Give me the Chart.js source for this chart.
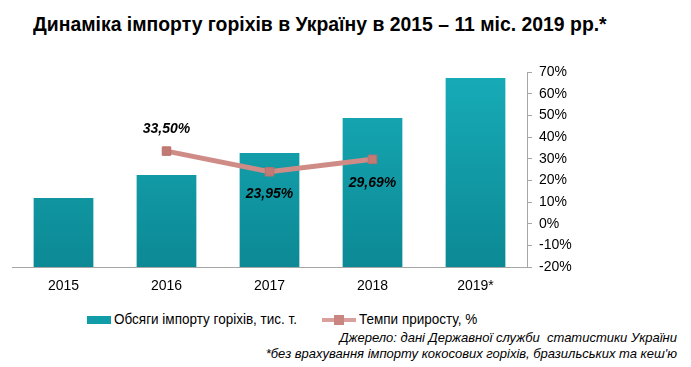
<!DOCTYPE html>
<html>
<head>
<meta charset="utf-8">
<script src="https://cdn.jsdelivr.net/npm/chart.js@4.4.0/dist/chart.umd.min.js"></script>
<style>
  body { margin: 0; background: #fff; }
  #wrap { position: relative; width: 691px; height: 367px; overflow: hidden;
          font-family: "Liberation Sans Narrow", "Liberation Sans", Arial, sans-serif; }
  #title { position: absolute; left: 33px; top: 12px; font-size: 21px; font-weight: bold; color: #000; white-space: nowrap;
           transform: scaleX(0.923); transform-origin: left top; }
  #box { position: absolute; left: 0; top: 55px; width: 600px; height: 245px; }
  .leg { position: absolute; top: 310px; font-size: 15px; color: #000; white-space: nowrap; }
  .leg .t { display: inline-block; transform: scaleX(0.9); transform-origin: left center; }
  .note { position: absolute; right: 14px; font-size: 13px; font-style: italic; color: #000; white-space: nowrap; }
</style>
</head>
<body>
<div id="wrap">
  <div id="title">Динаміка імпорту горіхів в Україну в 2015 – 11 міс. 2019 рр.*</div>
  <div id="box"><canvas id="myChart"></canvas></div>
  <div class="leg" style="left:87px"><span style="display:inline-block;width:24px;height:8px;background:#129ca8;vertical-align:middle;margin-right:3px"></span><span class="t">Обсяги імпорту горіхів, тис. т.</span></div>
  <div class="leg" style="left:322px"><span style="display:inline-block;position:relative;width:34px;height:10px;vertical-align:middle;margin-right:3px"><span style="position:absolute;left:0;top:3px;width:34px;height:4px;background:#d8a19c"></span><span style="position:absolute;left:12px;top:0;width:10px;height:10px;background:#c98681"></span></span><span class="t">Темпи приросту, %</span></div>
  <div class="note" style="top:330px">Джерело: дані Державної служби&nbsp; статистики України</div>
  <div class="note" style="top:346px">*без врахування імпорту кокосових горіхів, бразильських та кеш'ю</div>
</div>
<script>
const years = ['2015', '2016', '2017', '2018', '2019*'];
const importVolume = [6.9, 9.2, 11.4, 14.9, 18.9]; // тис. т (оцінка)
const growthRate = [null, 33.50, 23.95, 29.69, null]; // %

const fontName = '"Liberation Sans Narrow", "Liberation Sans", Arial, sans-serif';

const pointLabels = {
    id: 'pointLabels',
    afterDatasetsDraw(chart) {
        const ctx = chart.ctx;
        const meta = chart.getDatasetMeta(1);
        const offsets = [0, -22, 22, 24, 0];
        ctx.save();
        ctx.font = 'italic bold 14px ' + fontName;
        ctx.fillStyle = '#000';
        ctx.textAlign = 'center';
        ctx.textBaseline = 'middle';
        meta.data.forEach((pt, i) => {
            const v = growthRate[i];
            if (v === null) return;
            ctx.fillText(v.toFixed(2).replace('.', ',') + '%', pt.x, pt.y + offsets[i]);
        });
        ctx.restore();
    }
};

const ctx = document.getElementById('myChart');
new Chart(ctx, {
    type: 'bar',
    data: {
        labels: years,
        datasets: [{
            type: 'bar',
            label: 'Обсяги імпорту горіхів, тис. т.',
            data: importVolume,
            yAxisID: 'y',
            backgroundColor: function(context) {
                const area = context.chart.chartArea;
                if (!area) return '#129ca8';
                const g = context.chart.ctx.createLinearGradient(0, area.top, 0, area.bottom);
                g.addColorStop(0, '#17acb8');
                g.addColorStop(1, '#0c8994');
                return g;
            },
            barPercentage: 0.58,
            categoryPercentage: 1,
            order: 2
        }, {
            type: 'line',
            label: 'Темпи приросту, %',
            data: growthRate,
            yAxisID: 'y1',
            borderColor: '#cf8c86',
            borderWidth: 5,
            pointStyle: 'rect',
            pointRadius: 6,
            pointBackgroundColor: '#c27a74',
            pointBorderColor: '#b9716b',
            pointBorderWidth: 1,
            spanGaps: false,
            order: 1
        }]
    },
    options: {
        responsive: true,
        maintainAspectRatio: false,
        animation: false,
        layout: { padding: { left: 12, top: 17, right: 0, bottom: 0 } },
        plugins: {
            legend: { display: false },
            tooltip: { enabled: false }
        },
        scales: {
            x: {
                grid: { display: true, drawOnChartArea: false, drawTicks: false, offset: true },
                border: { display: true, color: '#a6a6a6', width: 1 },
                ticks: { color: '#000', font: { family: fontName, size: 14 }, padding: 11 },
                afterFit(axis) { axis.height = 33; }
            },
            y: {
                display: false,
                min: 0,
                max: 19.5
            },
            y1: {
                position: 'right',
                min: -20,
                max: 70,
                grid: { display: true, drawOnChartArea: false, drawTicks: true, tickLength: 5, color: '#a6a6a6' },
                border: { display: true, color: '#a6a6a6', width: 1 },
                ticks: {
                    stepSize: 10,
                    color: '#000',
                    padding: 7,
                    font: { family: fontName, size: 14 },
                    callback: function(value) { return value + '%'; }
                },
                afterFit(axis) { axis.width = 73; }
            }
        }
    },
    plugins: [pointLabels]
});
</script>
</body>
</html>
